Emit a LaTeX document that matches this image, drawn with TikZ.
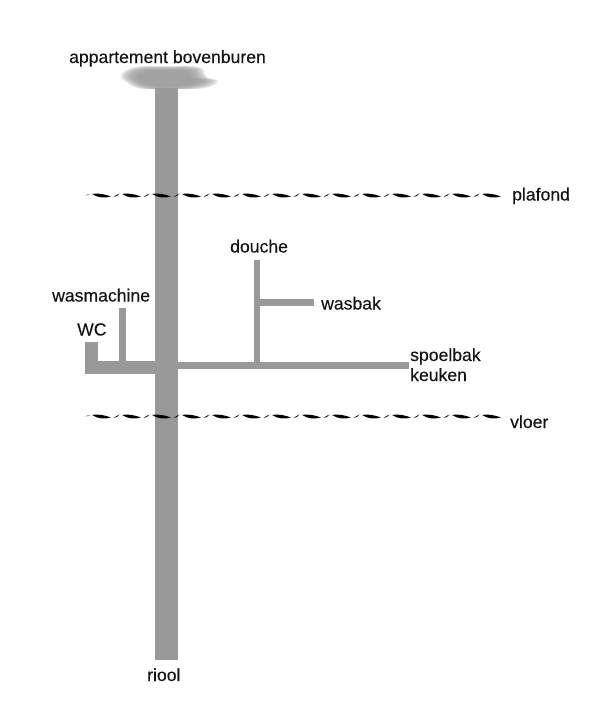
\documentclass[tikz,border=0pt]{standalone}
\usepackage{fontspec}
\setmainfont{Liberation Sans}[FakeBold=0.25]
\definecolor{pipe}{HTML}{999999}
\tikzset{
  pipefill/.style={fill=pipe,draw=none},
  lbl/.style={inner sep=0pt,font=\fontsize{17.6}{20}\selectfont,text=black!92,anchor=base west,align=left},
  lens/.style={fill=black,draw=none},
}
\newcommand{\waveline}[2]{%
  \fill[lens] (85,#2+0.2) .. controls (87,#2-0.6) and (89,#2-0.6) .. (90,#2-0.2) .. controls (88,#2+0.4) and (87,#2+0.5) .. (85,#2+0.2) -- cycle;
  \foreach \k in {0,...,13}{%
    \pgfmathsetmacro{\xb}{#1+\k*30}
    \pgfmathsetmacro{\xc}{\xb+19}
    \fill[lens] (\xb,#2-1.1) .. controls (\xb+6,#2-2.0) and (\xc-7,#2-1.0) .. (\xc,#2+1.4)
       .. controls (\xc-6,#2+3.4) and (\xb+6,#2+3.0) .. (\xb,#2-1.1) -- cycle;
  }%
  \foreach \k in {0,...,12}{%
    \pgfmathsetmacro{\xc}{#1+\k*30+20}
    \fill[lens] (\xc+1.5,#2+2.0) .. controls (\xc+3.5,#2+1.0) and (\xc+5,#2-0.8) .. (\xc+7.5,#2-1.6)
       .. controls (\xc+6,#2+0.2) and (\xc+4,#2+2.0) .. (\xc+1.5,#2+2.0) -- cycle;
  }%
}
\begin{document}
\begin{tikzpicture}[x=1pt,y=-1pt]
\useasboundingbox (0,0) rectangle (600,724);
% blurred patch under the upper apartment
\begin{scope}
  \clip (100,60) rectangle (240,88.5);
  \foreach \s in {1.0,0.96,...,0.6}{
    \begin{scope}[shift={(165,78)},xscale=\s,yscale=\s]
      \fill[pipe,opacity=0.2] plot[smooth cycle,tension=0.7] coordinates
        {(-44,-3) (-30,-11) (0,-12) (34,-11) (42,-1) (53,3) (40,10) (0,14) (-24,11) (-38,5)};
    \end{scope}
  }
\end{scope}
% pipes
\fill[pipefill] (155,88) rectangle (178,660);
\fill[pipefill] (85,361) rectangle (155,374);
\fill[pipefill] (85,342) rectangle (98,374);
\fill[pipefill] (119,308) rectangle (126,361);
\fill[pipefill] (178,362) rectangle (409,369);
\fill[pipefill] (254,260) rectangle (260,362);
\fill[pipefill] (260,299) rectangle (314,306);
% ceiling and floor
\waveline{92}{195}
\waveline{92}{416}
% labels
\node[lbl] (bovenburen) at (69,63) {appartement bovenburen};
\node[lbl] (plafond) at (512,200.5) {plafond};
\node[lbl] (douche) at (230,252.5) {douche};
\node[lbl] (wasmachine) at (52,301.5) {wasmachine};
\node[lbl] (wasbak) at (321,309.5) {wasbak};
\node[lbl] (wc) at (77,335.5) {WC};
\node[lbl] (spoelbak) at (410,361) {spoelbak};
\node[lbl] (keuken) at (410,381) {keuken};
\node[lbl] (vloer) at (510,428) {vloer};
\node[lbl] (riool) at (147,681) {riool};
\end{tikzpicture}
\end{document}
